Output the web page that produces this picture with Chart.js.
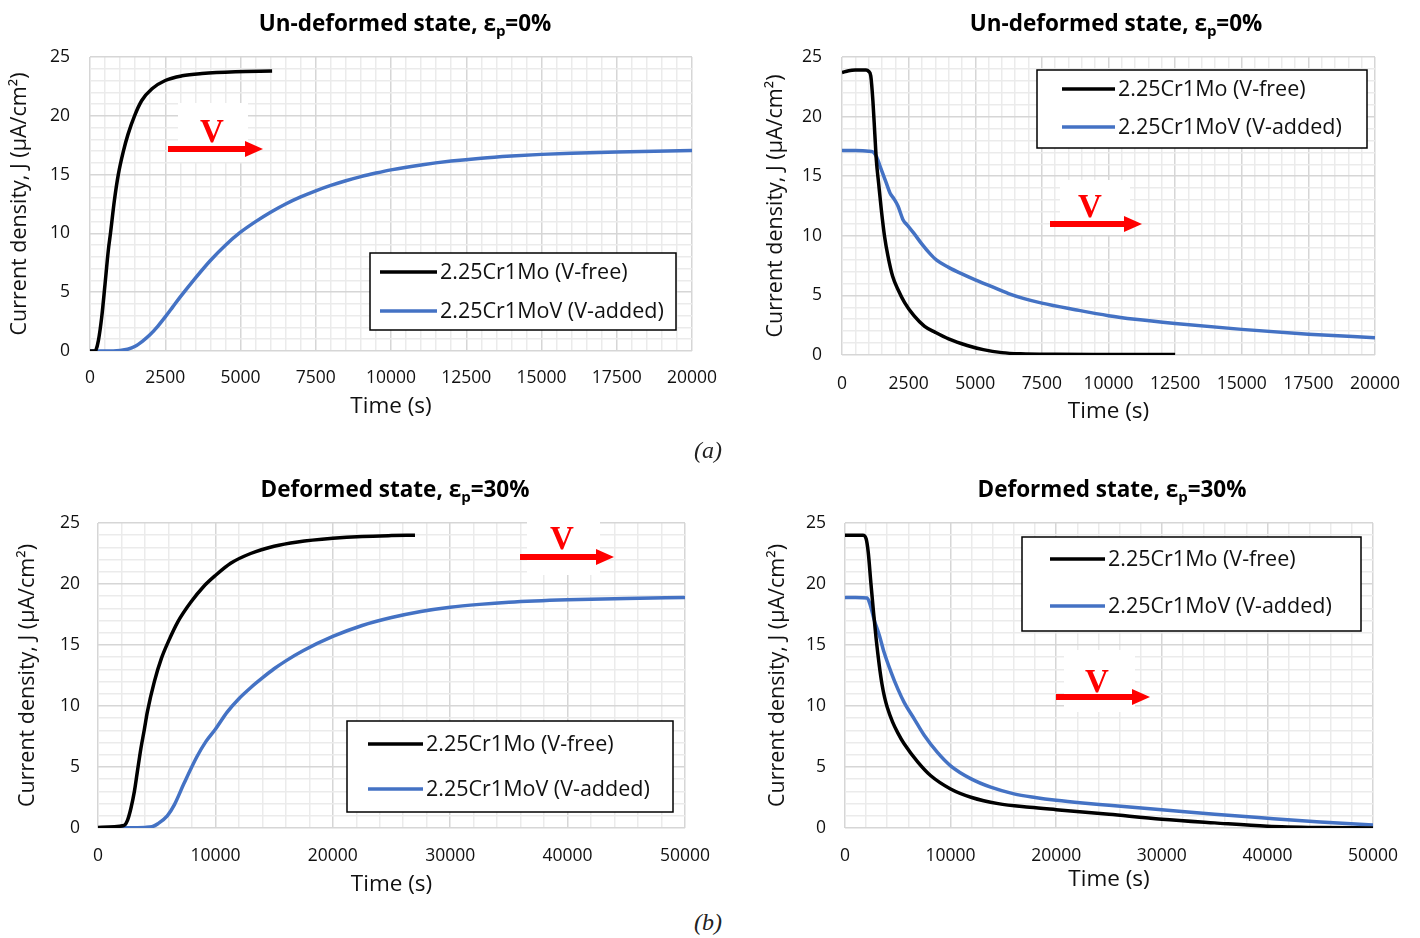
<!DOCTYPE html>
<html>
<head>
<meta charset="utf-8">
<title>Current density transients</title>
<script src="https://cdn.jsdelivr.net/npm/chart.js@4.4.1/dist/chart.umd.min.js"></script>
<style>
  body { margin: 0; background: #fff; }
  #page { position: relative; width: 1420px; height: 938px; overflow: hidden; }
  canvas { position: absolute; }
  .cap { position: absolute; font-family: 'Liberation Serif', 'Times New Roman', serif; font-style: italic;
         font-size: 24px; color: #222; transform: translate(-50%, -50%); }
</style>
</head>
<body>
<div id="page">
  <canvas id="cA" width="720" height="440" style="left:0;top:0"></canvas>
  <canvas id="cB" width="700" height="440" style="left:720px;top:0"></canvas>
  <canvas id="cC" width="720" height="430" style="left:0;top:470px"></canvas>
  <canvas id="cD" width="700" height="430" style="left:720px;top:470px"></canvas>
  <div class="cap" style="left:708px;top:450px">(a)</div>
  <div class="cap" style="left:708px;top:922px">(b)</div>
</div>
<script>
// series names
var seriesNames = ['2.25Cr1Mo (V-free)', '2.25Cr1MoV (V-added)'];

// (a) left: charging, un-deformed
var tA_free = [0, 150, 200, 280, 390, 500, 610, 680, 810, 940, 1110, 1260, 1480, 1720, 2060, 2500, 3060, 3720, 4830, 6050];
var jA_free = [0, 0, 0.1, 0.9, 2.9, 5.7, 8.6, 10, 12.8, 15, 17, 18.4, 20, 21.3, 22.3, 23.0, 23.4, 23.6, 23.75, 23.8];
var tA_v = [0, 500, 1000, 1250, 1500, 1750, 2000, 2250, 2500, 2750, 3000, 3500, 4000, 4500, 5000, 5500, 6000, 6500, 7000, 7500, 8000, 8500, 9000, 9500, 10000, 11000, 12000, 13000, 14000, 15000, 16000, 17500, 20000];
var jA_v = [0, 0, 0.05, 0.15, 0.4, 0.85, 1.4, 2.1, 2.9, 3.75, 4.6, 6.2, 7.7, 9.0, 10.1, 11.0, 11.8, 12.5, 13.1, 13.62, 14.08, 14.48, 14.83, 15.13, 15.4, 15.82, 16.15, 16.4, 16.58, 16.72, 16.82, 16.93, 17.05];

// (a) right: decay, un-deformed
var tB_free = [0, 250, 500, 900, 1000, 1080, 1160, 1230, 1290, 1375, 1475, 1600, 1725, 1900, 2100, 2350, 2700, 3100, 3500, 4000, 4700, 5300, 6000, 6700, 8000, 10000, 12500];
var jB_free = [23.7, 23.85, 23.9, 23.9, 23.8, 23.4, 21.3, 18.6, 16.3, 14.4, 12.2, 9.9, 8.3, 6.6, 5.5, 4.4, 3.3, 2.4, 1.9, 1.35, 0.8, 0.45, 0.2, 0.1, 0.06, 0.05, 0.04];
var tB_v = [0, 500, 1000, 1150, 1300, 1450, 1650, 1800, 1950, 2100, 2300, 2450, 2700, 3000, 3300, 3550, 4000, 4500, 5000, 5600, 6250, 6800, 7500, 8750, 10000, 11000, 12500, 15000, 17500, 20000];
var jB_v = [17.15, 17.15, 17.1, 17.05, 16.6, 15.7, 14.5, 13.6, 13.1, 12.5, 11.3, 10.9, 10.2, 9.3, 8.5, 7.95, 7.35, 6.8, 6.3, 5.75, 5.15, 4.75, 4.35, 3.8, 3.3, 3.0, 2.65, 2.15, 1.75, 1.45];

// (b) left: charging, deformed
var tC_free = [0, 2200, 2500, 2800, 3100, 3350, 3650, 3950, 4200, 4800, 5400, 6000, 6800, 7900, 9000, 10000, 11300, 13000, 15000, 17000, 20000, 22500, 25000, 27000];
var jC_free = [0.05, 0.2, 0.6, 1.6, 3.0, 4.6, 6.5, 8.1, 9.5, 12.0, 13.9, 15.3, 16.9, 18.5, 19.8, 20.7, 21.7, 22.5, 23.1, 23.45, 23.75, 23.9, 23.97, 24.0];
var tC_v = [0, 2000, 4000, 4600, 5100, 5900, 6500, 7300, 8400, 9200, 10000, 11000, 12000, 13000, 14000, 15000, 16000, 17500, 20000, 22500, 25000, 27500, 30000, 32500, 35000, 40000, 45000, 50000];
var jC_v = [0, 0.02, 0.05, 0.1, 0.35, 1.0, 1.9, 3.6, 5.8, 7.1, 8.1, 9.5, 10.6, 11.5, 12.3, 13.05, 13.7, 14.55, 15.7, 16.6, 17.25, 17.75, 18.1, 18.33, 18.5, 18.7, 18.82, 18.9];

// (b) right: decay, deformed
var tD_free = [0, 1000, 1700, 2000, 2200, 2450, 2700, 2950, 3250, 3500, 3750, 4000, 4500, 5000, 5600, 6900, 8100, 10000, 12000, 14500, 17500, 20000, 25000, 30000, 35000, 40000, 45000, 50000];
var jD_free = [24.0, 24.0, 24.0, 23.7, 22.6, 20.1, 17.7, 15.5, 13.3, 11.8, 10.7, 9.9, 8.7, 7.8, 6.9, 5.4, 4.3, 3.2, 2.5, 2.0, 1.7, 1.5, 1.12, 0.72, 0.42, 0.15, 0.04, 0.0];
var tD_v = [0, 1000, 2100, 2450, 2750, 3250, 3700, 4350, 5000, 5600, 6550, 7500, 8750, 10000, 11900, 13800, 16000, 18000, 20000, 22500, 25000, 30000, 35000, 40000, 45000, 50000];
var jD_v = [18.9, 18.9, 18.85, 18.1, 17.1, 15.8, 14.4, 12.8, 11.4, 10.3, 8.95, 7.6, 6.2, 5.1, 4.05, 3.35, 2.8, 2.5, 2.27, 2.05, 1.87, 1.5, 1.12, 0.8, 0.5, 0.25];

// axis ticks
var yTicks = { max: 25, minor: 1, major: 5 };
var xTicksShort = { max: 20000, minor: 500, major: 2500 };
var xTicksLong = { max: 50000, minor: 2000, major: 10000 };

var titleUndeformed = ['Un-deformed state, ε', 'p', '=0%'];
var titleDeformed = ['Deformed state, ε', 'p', '=30%'];

var FONT = "'Open Sans', 'Liberation Sans', sans-serif";
var MAJOR = '#d6d6d6';
var MINOR = '#ebebeb';
var LINE_COLORS = ['#000000', '#4472c4'];

// extra drawing: title with subscript, boxed legend, "V" arrow
var decor = {
    id: 'decor',
    afterDatasetsDraw: function (chart, args, o) {
        var ctx = chart.ctx;
        ctx.save();

        // title
        var big = 'bold 22.5px ' + FONT, small = 'bold 15px ' + FONT;
        var w = 0;
        o.title.forEach(function (s, i) {
            ctx.font = i === 1 ? small : big;
            w += ctx.measureText(s).width;
        });
        var x = o.titleX - w / 2;
        ctx.fillStyle = '#000';
        ctx.textBaseline = 'middle';
        ctx.textAlign = 'left';
        o.title.forEach(function (s, i) {
            ctx.font = i === 1 ? small : big;
            ctx.fillText(s, x, o.titleY + (i === 1 ? 7 : 0));
            x += ctx.measureText(s).width;
        });

        // V arrow
        var m = o.marker;
        ctx.fillStyle = '#fff';
        ctx.fillRect(m.bx, m.by, m.bw, m.bh);
        ctx.fillStyle = '#ff0000';
        ctx.font = "bold 33px 'Liberation Serif', serif";
        ctx.textAlign = 'center';
        ctx.fillText('V', m.vx, m.vy);
        ctx.fillRect(m.x1, m.y - 3, m.x2 - m.x1 - 16, 6);
        ctx.beginPath();
        ctx.moveTo(m.x2 - 18, m.y - 8);
        ctx.lineTo(m.x2, m.y);
        ctx.lineTo(m.x2 - 18, m.y + 8);
        ctx.closePath();
        ctx.fill();

        // legend
        var l = o.legend;
        ctx.fillStyle = '#fff';
        ctx.fillRect(l.x, l.y, l.w, l.h);
        ctx.strokeStyle = '#000';
        ctx.lineWidth = 1.5;
        ctx.strokeRect(l.x, l.y, l.w, l.h);
        ctx.font = '21.5px ' + FONT;
        ctx.textAlign = 'left';
        chart.data.datasets.forEach(function (ds, i) {
            ctx.strokeStyle = ds.borderColor;
            ctx.lineWidth = 3.5;
            ctx.beginPath();
            ctx.moveTo(l.lx1, l.rows[i]);
            ctx.lineTo(l.lx2, l.rows[i]);
            ctx.stroke();
            ctx.fillStyle = '#111';
            ctx.fillText(ds.label, l.tx, l.rows[i] + 1);
        });
        ctx.restore();
    }
};

function makeChart(id, g, xt, series, title, legend, marker) {
    var datasets = series.map(function (s, i) {
        return {
            label: seriesNames[i],
            data: s[0].map(function (t, k) { return { x: t, y: s[1][k] }; }),
            borderColor: LINE_COLORS[i],
            borderWidth: 3.5,
            pointRadius: 0,
            cubicInterpolationMode: 'monotone',
            fill: false
        };
    });
    var tickFont = { family: FONT, size: 17.5 };
    var axisFont = { family: FONT, size: 22.5 };
    return new Chart(document.getElementById(id), {
        type: 'line',
        data: { datasets: datasets },
        options: {
            responsive: false,
            animation: false,
            layout: { padding: { left: 0, top: g.t, right: g.w - g.r, bottom: 0 } },
            plugins: {
                legend: { display: false },
                tooltip: { enabled: false },
                decor: { title: title, titleX: g.titleX, titleY: g.titleY, legend: legend, marker: marker }
            },
            scales: {
                x: {
                    type: 'linear', min: 0, max: xt.max,
                    ticks: {
                        stepSize: xt.minor, autoSkip: false, maxRotation: 0, minRotation: 0,
                        padding: g.xLabY - g.b - 10.5, font: tickFont, color: '#111',
                        callback: function (v) { return v % xt.major === 0 ? String(v) : ''; }
                    },
                    grid: {
                        drawTicks: false, lineWidth: 1.5,
                        color: function (c) { return c.tick && c.tick.value % xt.major === 0 ? MAJOR : MINOR; }
                    },
                    border: { display: false },
                    title: {
                        display: true, text: 'Time (s)', font: axisFont, color: '#111',
                        padding: { top: 0, bottom: (g.h - g.xTitleY) - 13.5 }
                    },
                    afterFit: function (s) { s.height = g.h - g.b; s.paddingLeft = 0; s.paddingRight = 0; }
                },
                y: {
                    min: 0, max: yTicks.max,
                    ticks: {
                        stepSize: yTicks.minor, autoSkip: false,
                        padding: g.l - g.yLabR, font: tickFont, color: '#111',
                        callback: function (v) { return v % yTicks.major === 0 ? String(v) : ''; }
                    },
                    grid: {
                        drawTicks: false, lineWidth: 1.5,
                        color: function (c) { return c.tick && c.tick.value % yTicks.major === 0 ? MAJOR : MINOR; }
                    },
                    border: { display: false },
                    title: {
                        display: true, text: 'Current density, J (µA/cm²)',
                        font: { family: FONT, size: 21.5 }, color: '#111',
                        padding: { top: g.yTitleX - 12.9, bottom: 0 }
                    },
                    afterFit: function (s) { s.width = g.l; s.paddingTop = 0; s.paddingBottom = 0; }
                }
            }
        },
        plugins: [decor]
    });
}

makeChart('cA',
    { w: 720, h: 440, l: 90, r: 692, t: 57, b: 351, titleX: 405, titleY: 25, xLabY: 378, xTitleY: 407, yTitleX: 20, yLabR: 70 },
    xTicksShort, [[tA_free, jA_free], [tA_v, jA_v]], titleUndeformed,
    { x: 370, y: 253, w: 306, h: 77, lx1: 380, lx2: 437, tx: 440, rows: [272, 311] },
    { bx: 178, by: 103, bw: 70, bh: 59, vx: 212, vy: 133, x1: 168, x2: 263, y: 149 });

makeChart('cB',
    { w: 700, h: 440, l: 122, r: 655, t: 57, b: 355, titleX: 396, titleY: 25, xLabY: 384, xTitleY: 412, yTitleX: 56, yLabR: 102 },
    xTicksShort, [[tB_free, jB_free], [tB_v, jB_v]], titleUndeformed,
    { x: 317, y: 70, w: 330, h: 78, lx1: 342, lx2: 395, tx: 398, rows: [89, 127] },
    { bx: 340, by: 180, bw: 70, bh: 55, vx: 370, vy: 208, x1: 330, x2: 422, y: 224 });

makeChart('cC',
    { w: 720, h: 430, l: 98, r: 685, t: 53, b: 358, titleX: 395, titleY: 21, xLabY: 386, xTitleY: 415, yTitleX: 28, yLabR: 80 },
    xTicksLong, [[tC_free, jC_free], [tC_v, jC_v]], titleDeformed,
    { x: 347, y: 251, w: 326, h: 91, lx1: 368, lx2: 423, tx: 426, rows: [274, 319] },
    { bx: 527, by: 47, bw: 73, bh: 58, vx: 562, vy: 70, x1: 520, x2: 614, y: 87 });

makeChart('cD',
    { w: 700, h: 430, l: 125, r: 653, t: 53, b: 358, titleX: 392, titleY: 21, xLabY: 386, xTitleY: 410, yTitleX: 58, yLabR: 106 },
    xTicksLong, [[tD_free, jD_free], [tD_v, jD_v]], titleDeformed,
    { x: 302, y: 67, w: 339, h: 94, lx1: 330, lx2: 385, tx: 388, rows: [89, 136] },
    { bx: 344, by: 180, bw: 71, bh: 62, vx: 377, vy: 213, x1: 336, x2: 430, y: 227 });
</script>
</body>
</html>
